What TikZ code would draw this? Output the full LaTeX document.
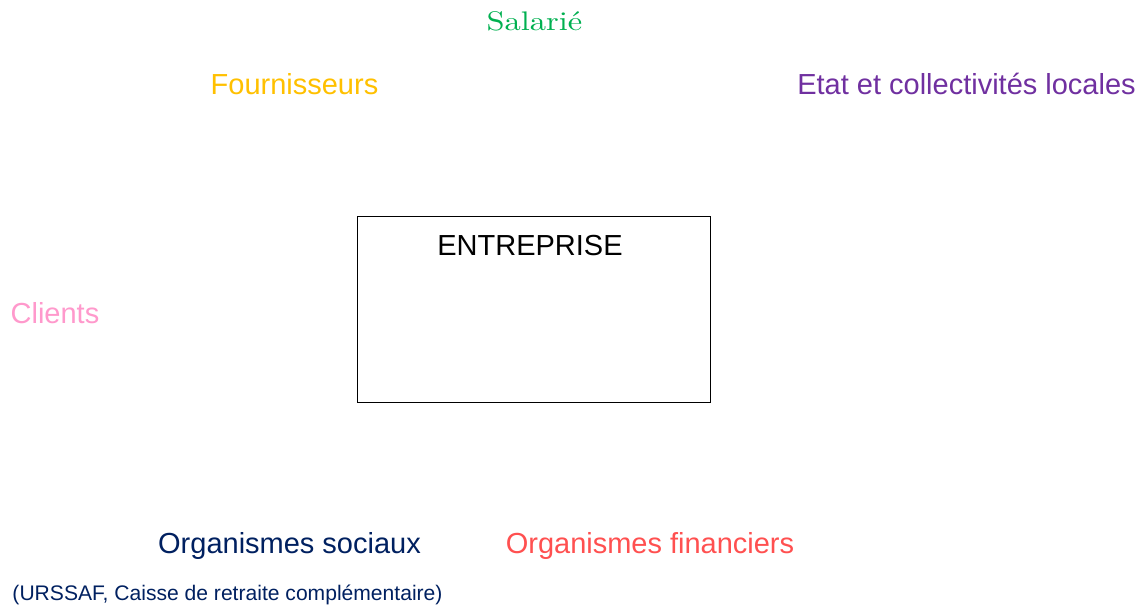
\documentclass[tikz,border=0pt]{standalone}
\usepackage{fontspec}
\usepackage{xcolor}
\usetikzlibrary{positioning}
\newfontfamily\arialfont{Liberation Sans}
\definecolor{vertsal}{HTML}{00B050}
\definecolor{jaunefour}{HTML}{FFC000}
\definecolor{violetetat}{HTML}{7030A0}
\definecolor{rosecli}{HTML}{FF99CC}
\definecolor{bleuorg}{HTML}{002060}
\definecolor{rougefin}{HTML}{FF5050}
\tikzset{%
	acteur/.style   = {anchor=base, inner sep=0pt, font=\arialfont\fontsize{16.5}{19}\selectfont},
	detail/.style   = {anchor=base, inner sep=0pt, font=\arialfont\fontsize{12}{14}\selectfont},
	entreprise/.style = {draw, line width=0.5pt, rectangle, minimum width=7.06cm, minimum height=3.72cm, inner sep=0pt},
}

\begin{document}
\begin{tikzpicture}[x=0.02cm, y=-0.02cm]
	\useasboundingbox (0,0) rectangle (1141,605);
	% l'entreprise au centre
	\node[entreprise] (ent) at (533.5,309) {};
	\node[acteur] (enttitre) at (530,255) {ENTREPRISE};
	% les partenaires autour
	\node[anchor=base, inner sep=0pt, text=vertsal, font=\fontsize{10}{12}\selectfont] (salarie) at (534.5,30.5) {\scalebox{1.85}[1.53]{Salarié}};
	\node[acteur, text=jaunefour] (fourn) at (294.5,94.5) {Fournisseurs};
	\node[acteur, text=violetetat] (etat) at (966.5,94.5) {Etat et collectivités locales};
	\node[acteur, text=rosecli] (clients) at (55,323) {Clients};
	\node[acteur, text=bleuorg] (orgsoc) at (289.5,553) {Organismes sociaux};
	\node[detail, text=bleuorg] (orgsocdet) at (227.5,600) {(URSSAF, Caisse de retraite complémentaire)};
	\node[acteur, text=rougefin] (orgfin) at (650,553) {Organismes financiers};
\end{tikzpicture}
\end{document}
